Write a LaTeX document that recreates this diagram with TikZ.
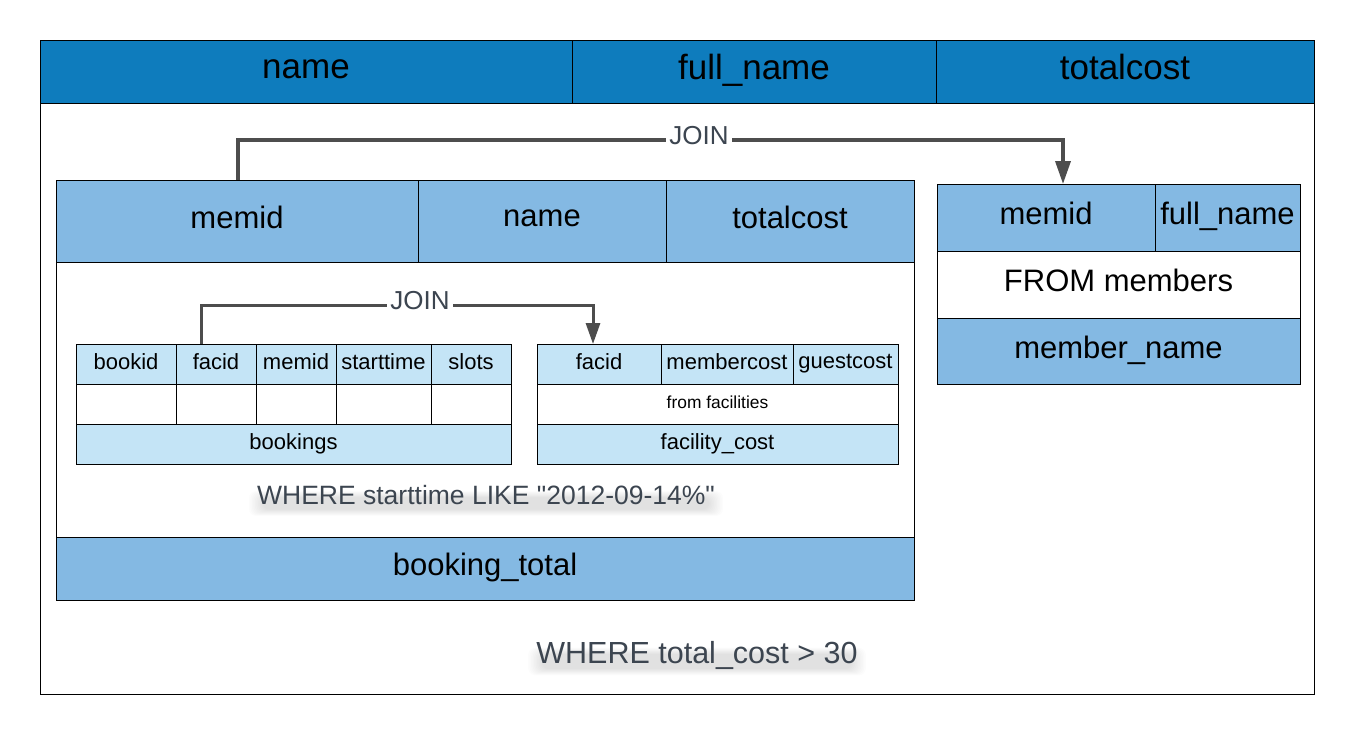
\documentclass[tikz,border=0pt]{standalone}
\usepackage{fontspec}
\setmainfont{Liberation Sans}
\usetikzlibrary{arrows.meta}
\definecolor{hdr}{RGB}{14,124,189}
\definecolor{mid}{RGB}{132,185,227}
\definecolor{lite}{RGB}{196,228,246}
\definecolor{connc}{RGB}{77,77,77}
\definecolor{gtext}{RGB}{60,69,80}
\newcommand\szTop{\fontsize{35}{42}\selectfont}
\newcommand\szMid{\fontsize{31}{37}\selectfont}
\newcommand\szSml{\fontsize{22}{26}\selectfont}
\newcommand\szTiny{\fontsize{17.4}{21}\selectfont}
\newcommand\szJoin{\fontsize{26}{31}\selectfont}
\newcommand\szWa{\fontsize{26.5}{32}\selectfont}
\newcommand\szWb{\fontsize{30.5}{36}\selectfont}
\pgfdeclarelayer{front}
\pgfsetlayers{main,front}
% name, x1, y1, x2, y2, fill, font, text
\newcommand\cellbox[8]{\node[cell,fill=#6,minimum width={#4-#2},minimum height={#5-#3},font=#7] (#1) at (#2,#3) {\rule[-.25em]{0pt}{.88em}#8};}
\begin{document}
\begin{tikzpicture}[x=1pt,y=-1pt,
  cell/.style={draw=black,line width=1pt,inner sep=0pt,outer sep=0pt,anchor=north west,text=black},
  conn/.style={draw=connc,line cap=butt,line join=miter},
  lbl/.style={fill=white,text=gtext,inner xsep=3pt,inner ysep=0pt},
  wtext/.style={text=gtext,inner sep=0pt},
  softshade/.style={fill=black,opacity=0.013,rounded corners=7pt},
]
\useasboundingbox (0,0) rectangle (1354,734);
\fill[white] (0,0) rectangle (1354,734);

% outer result box
\cellbox{outer}{40}{40}{1314}{694}{white}{\szTop}{}
\cellbox{h1}{40}{40}{572}{103}{hdr}{\szTop}{name}
\cellbox{h2}{572}{40}{936}{103}{hdr}{\szTop}{full\_name}
\cellbox{h3}{936}{40}{1314}{103}{hdr}{\szTop}{totalcost}

% booking_total
\cellbox{bt}{56}{180}{914}{600}{white}{\szMid}{}
\cellbox{b1}{56}{180}{418}{262}{mid}{\szMid}{memid}
\cellbox{b2}{418}{180}{666}{262}{mid}{\szMid}{name}
\cellbox{b3}{666}{180}{914}{262}{mid}{\szMid}{totalcost}
\cellbox{btot}{56}{537}{914}{600}{mid}{\szMid}{booking\_total}

% member_name
\cellbox{m1}{937}{184}{1155}{251}{mid}{\szMid}{memid}
\cellbox{m2}{1155}{184}{1300}{251}{mid}{\szMid}{full\_name}
\cellbox{m3}{937}{251}{1300}{318}{white}{\szMid}{FROM members}
\cellbox{m4}{937}{318}{1300}{384}{mid}{\szMid}{member\_name}

% bookings
\cellbox{k1}{76}{344}{176}{384}{lite}{\szSml}{bookid}
\cellbox{k2}{176}{344}{256}{384}{lite}{\szSml}{facid}
\cellbox{k3}{256}{344}{336}{384}{lite}{\szSml}{memid}
\cellbox{k4}{336}{344}{431}{384}{lite}{\szSml}{starttime}
\cellbox{k5}{431}{344}{511}{384}{lite}{\szSml}{slots}
\cellbox{e1}{76}{384}{176}{424}{white}{\szSml}{}
\cellbox{e2}{176}{384}{256}{424}{white}{\szSml}{}
\cellbox{e3}{256}{384}{336}{424}{white}{\szSml}{}
\cellbox{e4}{336}{384}{431}{424}{white}{\szSml}{}
\cellbox{e5}{431}{384}{511}{424}{white}{\szSml}{}
\cellbox{kb}{76}{424}{511}{464}{lite}{\szSml}{bookings}

% facility_cost
\cellbox{f1}{537}{344}{661}{384}{lite}{\szSml}{facid}
\cellbox{f2}{661}{344}{793}{384}{lite}{\szSml}{membercost}
\cellbox{f3}{793}{344}{898}{384}{lite}{\szSml}{guestcost}
\cellbox{ff}{537}{384}{898}{424}{white}{\szTiny}{from facilities}
\cellbox{fc}{537}{424}{898}{464}{lite}{\szSml}{facility\_cost}

% joins
\draw[conn,line width=3.5pt,-{Triangle[length=23pt,width=15pt]}]
  ([xshift=182pt]b1.north west) -- ++(0,-40) -| ([xshift=126pt]m1.north west);
\node[lbl,font=\szJoin] (j1) at (699,136) {JOIN};
\draw[conn,line width=3pt,-{Triangle[length=21pt,width=14pt]}]
  ([xshift=25pt]k2.north west) -- ++(0,-39) -| ([xshift=56pt]f1.north west);
\node[lbl,font=\szJoin] (j2) at (420,301) {JOIN};

% where clauses (text on front layer), soft shadow below
\begin{pgfonlayer}{front}
\node[wtext,font=\szWa] (w1) at (486,495) {WHERE starttime LIKE \textquotedbl 2012-09-14\%\textquotedbl};
\node[wtext,font=\szWb] (w2) at (697,655) {WHERE total\_cost > 30};
\end{pgfonlayer}
\foreach \i in {0,...,9}{
  \fill[softshade] ([xshift={-8pt+1.5pt*\i},yshift={-6pt-0.7pt*\i}]w1.north west)
    rectangle ([xshift={8pt-1.5pt*\i},yshift={-11pt+0.7pt*\i}]w1.south east);
  \fill[softshade] ([xshift={-8pt+1.5pt*\i},yshift={-7pt-0.7pt*\i}]w2.north west)
    rectangle ([xshift={8pt-1.5pt*\i},yshift={-6pt+0.7pt*\i}]w2.south east);
}
\end{tikzpicture}
\end{document}
